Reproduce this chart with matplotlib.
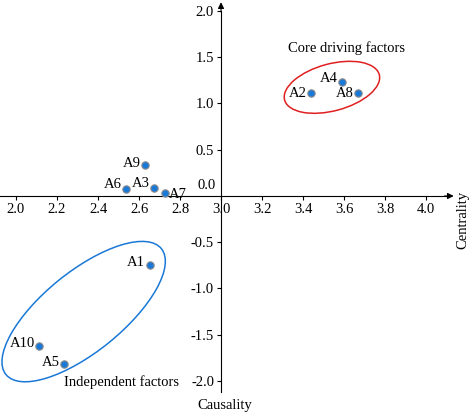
import matplotlib.pyplot as plt
from matplotlib.patches import Ellipse
from matplotlib.transforms import ScaledTranslation

plt.rcParams['font.family'] = ['Liberation Serif', 'DejaVu Serif']
plt.rcParams['font.size'] = 10.5

# factor data: causality (x) and centrality (y)
names = ['A1', 'A2', 'A3', 'A4', 'A5', 'A6', 'A7', 'A8', 'A9', 'A10']
causality = [2.654, 3.44, 2.673, 3.59, 2.234, 2.537, 2.727, 3.668, 2.629, 2.112]
centrality = [-0.75, 1.11, 0.086, 1.23, -1.82, 0.076, 0.03, 1.11, 0.335, -1.62]

# label offsets (points) and alignment for each name
label_pos = {
    'A1': (-4, 2, 'right'), 'A2': (-3, 0, 'right'), 'A3': (-3, 3, 'right'),
    'A4': (-3, 3, 'right'), 'A5': (-3, 1, 'right'), 'A6': (-3, 3, 'right'),
    'A7': (3, -1, 'left'), 'A8': (-3, 0, 'right'), 'A9': (-3, 1, 'right'),
    'A10': (-3, 2, 'right'),
}

xticks = [2.0, 2.2, 2.4, 2.6, 2.8, 3.0, 3.2, 3.4, 3.6, 3.8, 4.0]
yticks = [-2.0, -1.5, -1.0, -0.5, 0.5, 1.0, 1.5, 2.0]

fig = plt.figure(figsize=(4.73, 4.15), dpi=100)
ax = fig.add_axes([0, 0, 1, 1])
ax.set_xlim(1.922, 4.229)
ax.set_ylim(-2.368, 2.119)

# axes crossing at (3, 0)
for s in ['top', 'right']:
    ax.spines[s].set_visible(False)
ax.spines['left'].set_position(('data', 3.0))
ax.spines['bottom'].set_position(('data', 0.0))
ax.spines['left'].set_bounds(-2.12, 2.0)
ax.spines['bottom'].set_bounds(1.922, 4.1)
arrow = dict(arrowstyle='-|>', mutation_scale=9, lw=0.8, color='black', shrinkA=0, shrinkB=0)
ax.annotate('', xy=(4.135, 0), xytext=(4.09, 0), arrowprops=arrow, annotation_clip=False)
ax.annotate('', xy=(3.0, 2.095), xytext=(3.0, 1.99), arrowprops=arrow, annotation_clip=False)

ax.set_xticks(xticks)
ax.set_xticklabels([f'{t:.1f}' for t in xticks])
ax.set_yticks(yticks)
ax.set_yticklabels([f'{t:.1f}' for t in yticks])
ax.tick_params(axis='both', direction='out', length=3, width=0.8, labelsize=10.5, pad=2)
ax.annotate('0.0', (3.0, 0), xytext=(-4, 3), textcoords='offset points',
            ha='right', va='bottom', fontsize=10.5)

ax.scatter(causality, centrality, s=28, color='#1a78d6', edgecolors='#8a8a8a',
           linewidths=0.8, zorder=3)
for n, x, y in zip(names, causality, centrality):
    dx, dy, ha = label_pos[n]
    ax.annotate(n, (x, y), xytext=(dx, dy), textcoords='offset points',
                ha=ha, va='center', fontsize=10.5)

# group ellipses (size in inches, centre in data)
red = Ellipse((0, 0), 0.98, 0.47, angle=15, fill=False, edgecolor='#e02020', lw=1.1,
              transform=fig.dpi_scale_trans + ScaledTranslation(3.541, 1.175, ax.transData))
blue = Ellipse((0, 0), 2.0, 0.80, angle=39, fill=False, edgecolor='#1a78d6', lw=1.1,
               transform=fig.dpi_scale_trans + ScaledTranslation(2.33, -1.25, ax.transData))
ax.add_patch(red)
ax.add_patch(blue)

ax.text(3.61, 1.6, 'Core driving factors', ha='center', va='center', fontsize=10.5)
ax.text(2.234, -2.01, 'Independent factors', ha='left', va='center', fontsize=10.5)
ax.text(0.979, 0.47, 'Centrality', rotation=90, ha='center', va='center',
        fontsize=10.5, transform=ax.transAxes)
ax.text(3.02, -2.27, 'Causality', ha='center', va='center', fontsize=10.5)

fig.savefig('out.png', dpi=100)
